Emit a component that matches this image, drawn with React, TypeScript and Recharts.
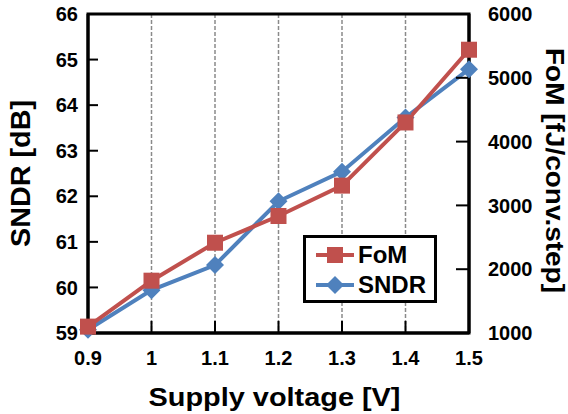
import React from 'react';
import {
  ComposedChart,
  Line,
  XAxis,
  YAxis,
  CartesianGrid,
  ReferenceArea,
  Legend,
} from 'recharts';

const voltages = [0.9, 1.0, 1.1, 1.2, 1.3, 1.4, 1.5];
const sndr = [59.07, 59.94, 60.49, 61.89, 62.54, 63.73, 64.79];
const fom = [1100, 1820, 2415, 2834, 3310, 4300, 5440];
const sndrTicks = [59, 60, 61, 62, 63, 64, 65, 66];
const fomTicks = [1000, 2000, 3000, 4000, 5000, 6000];

const RED = '#C0504D';
const BLUE = '#4F81BD';
const FONT = '"Liberation Sans", Arial, sans-serif';

const data = voltages.map((v, i) => ({ v, sndr: sndr[i], fom: fom[i] }));

const tickStyle = { fill: '#000', fontSize: 20, fontWeight: 700, fontFamily: FONT };

function Square(props: any) {
  const { cx, cy } = props;
  if (cx == null || cy == null) return null;
  return <rect x={cx - 8} y={cy - 8} width={16} height={16} fill={RED} />;
}

function Diamond(props: any) {
  const { cx, cy } = props;
  if (cx == null || cy == null) return null;
  return <polygon points={`${cx},${cy - 9} ${cx + 9},${cy} ${cx},${cy + 9} ${cx - 9},${cy}`} fill={BLUE} />;
}

function LegendBox() {
  const row = (color: string, name: string, marker: React.ReactNode) => (
    <div style={{ display: 'flex', alignItems: 'center', height: 30 }}>
      <svg width={42} height={22} style={{ marginLeft: 8 }}>
        <line x1={2} y1={11} x2={40} y2={11} stroke={color} strokeWidth={4} />
        {marker}
      </svg>
      <span style={{ fontSize: 24, fontWeight: 700, fontFamily: FONT, color: '#000', marginLeft: 2 }}>{name}</span>
    </div>
  );
  return (
    <div
      style={{
        width: 134,
        height: 68,
        boxSizing: 'border-box',
        border: '3px solid #000',
        background: '#fff',
        paddingTop: 2,
      }}
    >
      {row(RED, 'FoM', <rect x={13} y={3} width={16} height={16} fill={RED} />)}
      {row(BLUE, 'SNDR', <polygon points="21,2 30,11 21,20 12,11" fill={BLUE} />)}
    </div>
  );
}

export default function App() {
  return (
    <div style={{ position: 'absolute', left: 0, top: 0, width: 568, height: 414, background: '#fff' }}>
      <ComposedChart width={568} height={414} data={data} margin={{ top: 14, right: 0, bottom: 0, left: 0 }}>
        <CartesianGrid horizontal={false} stroke="#8a8a8a" strokeWidth={1.5} strokeDasharray="4 2" />
        <XAxis
          dataKey="v"
          type="number"
          domain={[0.9, 1.5]}
          ticks={voltages}
          tickFormatter={(v: number) => String(Math.round(v * 10) / 10)}
          height={81}
          tick={tickStyle}
          tickSize={-12}
          tickMargin={30}
          tickLine={{ stroke: '#000', strokeWidth: 2 }}
          axisLine={{ stroke: '#000', strokeWidth: 3 }}
          label={{
            content: (p: any) => (
              <text
                x={p.viewBox.x + p.viewBox.width / 2 - 4}
                y={p.viewBox.y + 73}
                textAnchor="middle"
                fontSize={26}
                fontWeight={700}
                fontFamily={FONT}
                fill="#000"
                textLength={252}
                lengthAdjust="spacingAndGlyphs"
              >
                Supply voltage [V]
              </text>
            ),
          }}
        />
        <YAxis
          yAxisId="left"
          domain={[59, 66]}
          ticks={sndrTicks}
          width={88}
          tick={tickStyle}
          tickSize={-10}
          tickMargin={20}
          tickLine={{ stroke: '#000', strokeWidth: 2 }}
          axisLine={{ stroke: '#000', strokeWidth: 3 }}
          label={{
            content: (p: any) => {
              const x = p.viewBox.x + 21;
              const y = p.viewBox.y + p.viewBox.height / 2;
              return (
                <text
                  x={x}
                  y={y}
                  transform={`rotate(-90 ${x} ${y})`}
                  textAnchor="middle"
                  dominantBaseline="central"
                  fontSize={27}
                  fontWeight={700}
                  fontFamily={FONT}
                  fill="#000"
                  textLength={147}
                  lengthAdjust="spacingAndGlyphs"
                >
                  SNDR [dB]
                </text>
              );
            },
          }}
        />
        <YAxis
          yAxisId="right"
          orientation="right"
          domain={[1000, 6000]}
          ticks={fomTicks}
          width={99}
          tick={tickStyle}
          tickSize={-13}
          tickMargin={32}
          tickLine={{ stroke: '#000', strokeWidth: 2 }}
          axisLine={{ stroke: '#000', strokeWidth: 3 }}
          label={{
            content: (p: any) => {
              const x = p.viewBox.x + 86;
              const y = p.viewBox.y + p.viewBox.height / 2 - 3;
              return (
                <text
                  x={x}
                  y={y}
                  transform={`rotate(90 ${x} ${y})`}
                  textAnchor="middle"
                  dominantBaseline="central"
                  fontSize={25}
                  fontWeight={700}
                  fontFamily={FONT}
                  fill="#000"
                  textLength={245}
                  lengthAdjust="spacingAndGlyphs"
                >
                  FoM [fJ/conv.step]
                </text>
              );
            },
          }}
        />
        <ReferenceArea
          yAxisId="left"
          x1={0.9}
          x2={1.5}
          y1={59}
          y2={66}
          fill="none"
          stroke="#000"
          strokeWidth={3}
          ifOverflow="visible"
        />
        <Line
          yAxisId="left"
          dataKey="sndr"
          stroke={BLUE}
          strokeWidth={4}
          dot={<Diamond />}
          activeDot={false}
          isAnimationActive={false}
        />
        <Line
          yAxisId="right"
          dataKey="fom"
          stroke={RED}
          strokeWidth={4}
          dot={<Square />}
          activeDot={false}
          isAnimationActive={false}
        />
        <Legend
          layout="vertical"
          align="center"
          verticalAlign="middle"
          content={() => <LegendBox />}
          wrapperStyle={{ left: 303, top: 235, width: 134, height: 68 }}
        />
      </ComposedChart>
    </div>
  );
}
